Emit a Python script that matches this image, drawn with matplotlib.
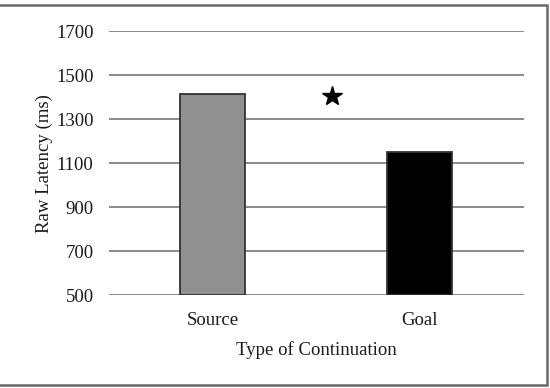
import matplotlib
matplotlib.use("Agg")
import matplotlib.pyplot as plt
from matplotlib.patches import Rectangle

# data
categories = ["Source", "Goal"]
latency = [1415, 1150]
bar_colors = ["#909090", "#000000"]
star_x = 0.576
star_y = 1406
y_ticks = [500, 700, 900, 1100, 1300, 1500, 1700]

plt.rcParams["font.family"] = ["Liberation Serif", "DejaVu Serif"]

fig = plt.figure(figsize=(5.5, 3.88), dpi=100)
ax = fig.add_axes([0.198, 0.239, 0.754, 0.680])

x = list(range(len(categories)))
ax.bar(x, [v - 500 for v in latency], bottom=500, width=0.314,
       color=bar_colors, edgecolor="#333333", linewidth=1.3, zorder=3)
ax.plot([star_x], [star_y], marker="*", color="black", markersize=15, zorder=4)

ax.set_xlim(-0.5, 1.5)
ax.set_ylim(500, 1700)
ax.set_yticks(y_ticks)
ax.set_xticks(x)
ax.set_xticklabels(categories)
ax.yaxis.grid(True, color="#8a8a8a", linewidth=1.4, zorder=0)
ax.set_axisbelow(True)
for s in ax.spines.values():
    s.set_visible(False)
ax.tick_params(axis="both", length=0, labelsize=13.5, colors="#1a1a1a")
ax.tick_params(axis="y", pad=11)
ax.tick_params(axis="x", pad=12)

ax.set_xlabel("Type of Continuation", fontsize=13.5, color="#1a1a1a", labelpad=9)
ax.set_ylabel("Raw Latency (ms)", fontsize=13.5, color="#1a1a1a", labelpad=2)

# frame round the figure (left edge falls outside the image)
fig.patches.append(Rectangle((-0.01, 0.008), 1.004, 0.978, transform=fig.transFigure,
                             fill=False, edgecolor="#6a6a6a", linewidth=1.8))

fig.savefig("out.png", dpi=100)
